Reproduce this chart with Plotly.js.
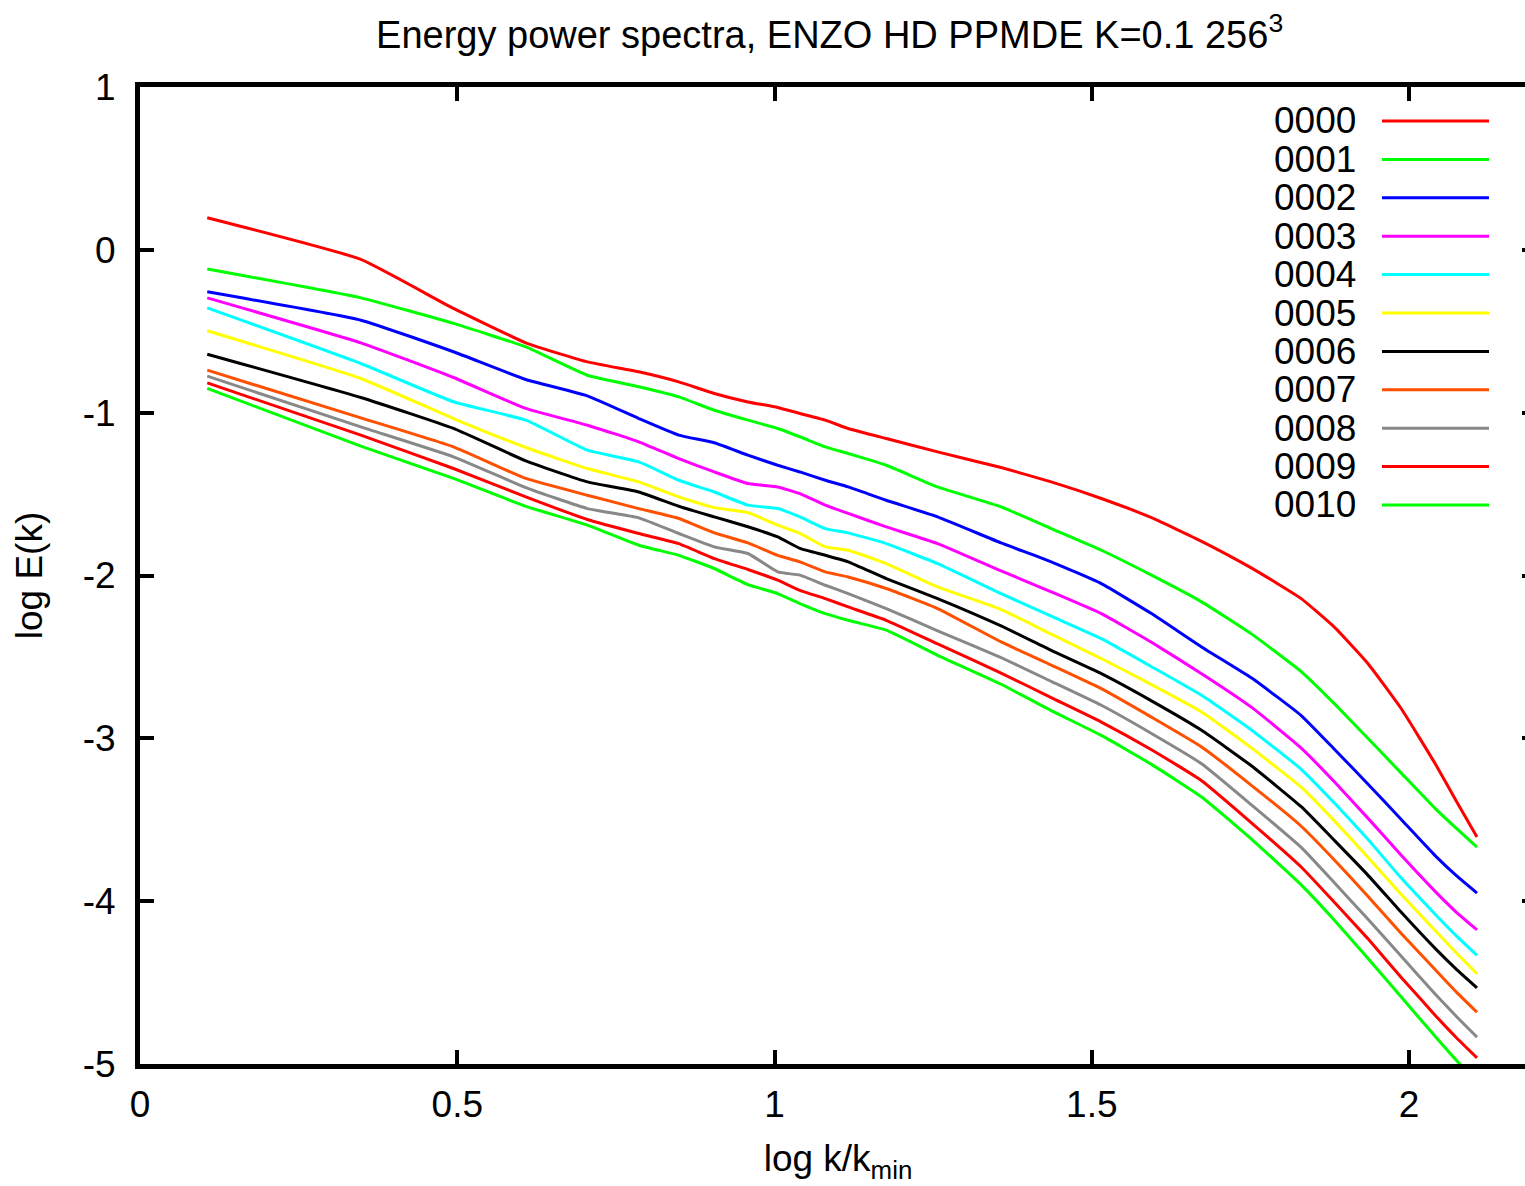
<!DOCTYPE html>
<html>
<head>
<meta charset="utf-8">
<script src="https://cdn.plot.ly/plotly-3.0.1.min.js"></script>
<style>
html, body { margin:0; padding:0; overflow:hidden; background:#fff; }
#chart { width:1536px; height:1186px; }
</style>
</head>
<body>
<div id="chart"></div>
<script>
// log k/kmin positions of the spectrum samples
const logK = [0.106, 0.348, 0.494, 0.608, 0.705, 0.786, 0.849, 0.905, 0.958, 1.005, 1.04, 1.08, 1.116, 1.176, 1.257, 1.357, 1.436, 1.515, 1.594, 1.673, 1.752, 1.830, 1.883, 1.935, 1.988, 2.041, 2.075, 2.107];

const s0000 = [0.197, -0.059, -0.360, -0.571, -0.688, -0.749, -0.811, -0.882, -0.934, -0.968, -1.005, -1.046, -1.097, -1.159, -1.241, -1.337, -1.425, -1.527, -1.645, -1.790, -1.955, -2.142, -2.320, -2.540, -2.820, -3.155, -3.390, -3.606];
const s0001 = [-0.118, -0.295, -0.452, -0.596, -0.770, -0.841, -0.903, -0.985, -1.046, -1.097, -1.148, -1.210, -1.251, -1.323, -1.456, -1.579, -1.712, -1.845, -1.998, -2.162, -2.360, -2.590, -2.790, -3.000, -3.215, -3.430, -3.555, -3.668];
const s0002 = [-0.258, -0.432, -0.626, -0.796, -0.897, -1.036, -1.138, -1.185, -1.261, -1.323, -1.364, -1.415, -1.456, -1.538, -1.640, -1.800, -1.916, -2.050, -2.234, -2.439, -2.630, -2.860, -3.070, -3.280, -3.500, -3.720, -3.845, -3.950];
const s0003 = [-0.295, -0.571, -0.784, -0.974, -1.077, -1.179, -1.282, -1.364, -1.435, -1.456, -1.497, -1.568, -1.619, -1.701, -1.804, -1.972, -2.100, -2.234, -2.410, -2.603, -2.810, -3.060, -3.270, -3.490, -3.720, -3.940, -4.070, -4.176];
const s0004 = [-0.356, -0.698, -0.933, -1.046, -1.230, -1.302, -1.415, -1.487, -1.568, -1.589, -1.640, -1.712, -1.738, -1.804, -1.927, -2.111, -2.250, -2.388, -2.560, -2.736, -2.950, -3.190, -3.400, -3.620, -3.860, -4.080, -4.215, -4.333];
const s0005 = [-0.497, -0.790, -1.036, -1.214, -1.343, -1.425, -1.517, -1.583, -1.613, -1.691, -1.742, -1.824, -1.845, -1.927, -2.070, -2.209, -2.360, -2.510, -2.670, -2.838, -3.060, -3.300, -3.510, -3.730, -3.960, -4.180, -4.320, -4.446];
const s0006 = [-0.641, -0.907, -1.097, -1.296, -1.425, -1.487, -1.575, -1.640, -1.701, -1.763, -1.834, -1.876, -1.916, -2.019, -2.142, -2.310, -2.460, -2.603, -2.770, -2.951, -3.170, -3.420, -3.630, -3.840, -4.070, -4.290, -4.420, -4.532];
const s0007 = [-0.739, -1.032, -1.210, -1.404, -1.507, -1.589, -1.650, -1.738, -1.800, -1.876, -1.916, -1.978, -2.009, -2.080, -2.203, -2.408, -2.550, -2.695, -2.870, -3.053, -3.290, -3.540, -3.750, -3.970, -4.200, -4.420, -4.560, -4.682];
const s0008 = [-0.776, -1.087, -1.271, -1.460, -1.589, -1.646, -1.742, -1.824, -1.865, -1.978, -1.998, -2.060, -2.111, -2.203, -2.340, -2.504, -2.650, -2.797, -2.970, -3.156, -3.410, -3.670, -3.890, -4.110, -4.340, -4.570, -4.710, -4.835];
const s0009 = [-0.817, -1.138, -1.343, -1.517, -1.656, -1.742, -1.804, -1.896, -1.963, -2.029, -2.091, -2.142, -2.193, -2.275, -2.420, -2.599, -2.750, -2.900, -3.070, -3.260, -3.520, -3.790, -4.010, -4.230, -4.470, -4.700, -4.840, -4.962];
const s0010 = [-0.851, -1.206, -1.404, -1.575, -1.691, -1.814, -1.876, -1.957, -2.056, -2.111, -2.172, -2.234, -2.275, -2.336, -2.490, -2.668, -2.830, -2.982, -3.160, -3.360, -3.620, -3.900, -4.120, -4.350, -4.590, -4.830, -4.980, -5.110];

const seriesNames = ['0000','0001','0002','0003','0004','0005','0006','0007','0008','0009','0010'];
const seriesValues = [s0000, s0001, s0002, s0003, s0004, s0005, s0006, s0007, s0008, s0009, s0010];
const seriesColors = ['#ff0000','#00ff00','#0000ff','#ff00ff','#00ffff','#ffff00','#000000','#ff5000','#888888','#ff0000','#00ff00'];

const xTicks = [0, 0.5, 1, 1.5, 2];
const xTickText = ['0', '0.5', '1', '1.5', '2'];
const yTicks = [-5, -4, -3, -2, -1, 0, 1];
const yTickText = ['-5', '-4', '-3', '-2', '-1', '0', '1'];

const FONT = 'Liberation Sans, Arial, sans-serif';
const W = 1536, H = 1186;
const M = {l: 140, r: 0, t: 87, b: 122};
const plotW = W - M.l - M.r, plotH = H - M.t - M.b;
const px = v => (v - M.l) / plotW;        // pixel -> paper x
const py = v => (H - M.b - v) / plotH;    // pixel -> paper y

const traces = seriesValues.map((vals, i) => ({
  type: 'scatter', mode: 'lines', x: logK, y: vals, name: seriesNames[i],
  line: {color: seriesColors[i], width: 3, shape: 'spline', smoothing: 0.4}, showlegend: false, hoverinfo: 'x+y+name'
}));

// gnuplot-style key: label right-aligned, line sample to its right
const annotations = [], shapes = [];
seriesNames.forEach((n, i) => {
  const rowY = 121 + 38.4 * i;
  annotations.push({xref: 'paper', yref: 'paper', x: px(1358), y: py(rowY), xanchor: 'right', yanchor: 'middle',
    text: n, showarrow: false, font: {family: FONT, size: 37, color: '#000'}});
  shapes.push({type: 'line', xref: 'paper', yref: 'paper', x0: px(1382), x1: px(1489), y0: py(rowY), y1: py(rowY),
    line: {color: seriesColors[i], width: 3}});
});

const axisCommon = {
  showgrid: false, zeroline: false, showline: true, linecolor: '#000', linewidth: 5,
  mirror: 'allticks', ticks: 'inside', ticklen: 14, tickwidth: 4, tickcolor: '#000',
  tickfont: {family: FONT, size: 37, color: '#000'}
};

const layout = {
  width: W, height: H, margin: M, paper_bgcolor: '#fff', plot_bgcolor: '#fff',
  font: {family: FONT, size: 37, color: '#000'},
  title: {text: 'Energy power spectra, ENZO HD PPMDE K=0.1 256<sup>3</sup>', font: {family: FONT, size: 38, color: '#000'},
    xref: 'paper', x: 0.494, xanchor: 'center', yref: 'container', y: 1 - 35 / H, yanchor: 'middle'},
  xaxis: Object.assign({}, axisCommon, {range: [0, 2.2], tickvals: xTicks, ticktext: xTickText, ticklabelstandoff: 4,
    title: {text: 'log k/k<sub>min</sub>', font: {family: FONT, size: 37, color: '#000'}, standoff: 22}}),
  yaxis: Object.assign({}, axisCommon, {range: [-5, 1], tickvals: yTicks, ticktext: yTickText, ticklabelstandoff: 12,
    title: {text: 'log E(k)', font: {family: FONT, size: 37, color: '#000'}, standoff: 30}}),
  annotations: annotations, shapes: shapes
};

Plotly.newPlot('chart', traces, layout, {displayModeBar: false, staticPlot: true});
</script>
</body>
</html>
